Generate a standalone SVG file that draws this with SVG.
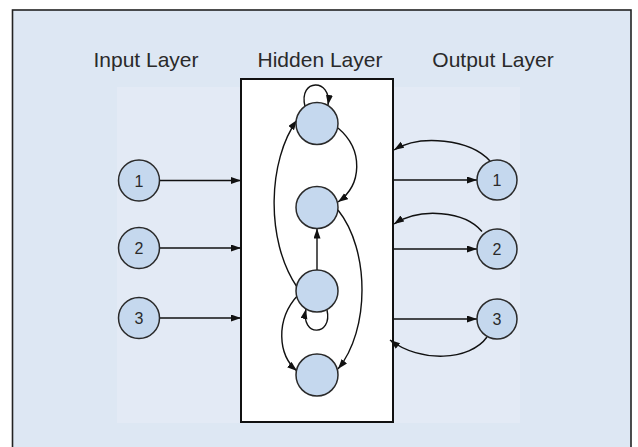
<svg xmlns="http://www.w3.org/2000/svg" width="638" height="447" viewBox="0 0 638 447">
  <defs>
    <marker id="arrow" markerUnits="userSpaceOnUse" markerWidth="11" markerHeight="8" refX="10" refY="3.5" orient="auto">
      <path d="M0,0 L10,3.5 L0,7 z" fill="#111"/>
    </marker>
    <style>
      .panel { fill: #dde7f3; stroke: #222; stroke-width: 1.6; }
      .inner { fill: #e3eaf5; }
      .box { fill: #ffffff; stroke: #111; stroke-width: 2; }
      .node { fill: #c5d8ee; stroke: #2a2a2a; stroke-width: 1.5; }
      .title { font-family: "Liberation Sans", Arial, sans-serif; font-size: 21px; fill: #2a2a2a; text-anchor: middle; }
      .num { font-family: "Liberation Sans", Arial, sans-serif; font-size: 16px; fill: #2a2a2a; text-anchor: middle; }
      .edge { fill: none; stroke: #111; stroke-width: 1.4; marker-end: url(#arrow); }
    </style>
  </defs>

  <!-- background panel -->
  <rect class="panel" x="12.5" y="10" width="618.5" height="450"/>
  <rect class="inner" x="117" y="87" width="403" height="336"/>

  <!-- layer titles -->
  <text class="title" x="146" y="67">Input Layer</text>
  <text class="title" x="320" y="67">Hidden Layer</text>
  <text class="title" x="493" y="67">Output Layer</text>

  <!-- hidden layer container -->
  <g id="hidden-layer">
    <rect class="box" x="241" y="79" width="152" height="343"/>
  </g>

  <!-- connectors -->
  <g id="connectors">
    <!-- inputs into hidden layer -->
    <path class="edge" d="M159.5,180.5 H241"/>
    <path class="edge" d="M159.5,248 H241"/>
    <path class="edge" d="M159.5,318 H241"/>
    <!-- hidden layer to outputs -->
    <path class="edge" d="M393,180 H477"/>
    <path class="edge" d="M393,249 H477"/>
    <path class="edge" d="M393,319 H477"/>
    <!-- output feedback -->
    <path class="edge" d="M490,161 C470,139 420,134 394,150"/>
    <path class="edge" d="M482,231.5 C465,211 420,207 394,224"/>
    <path class="edge" d="M487,337 C470,361 420,363 390,340"/>
    <!-- recurrent connections inside hidden layer -->
    <path class="edge" d="M305,106.5 C298,78 332,78 328,105"/>
    <path class="edge" d="M338,128 C364,150 362,185 338,202"/>
    <path class="edge" d="M297,287 C265,240 268,160 297,120"/>
    <path class="edge" d="M338,210 C370,250 370,330 338,369"/>
    <path class="edge" d="M317,270 V228.5"/>
    <path class="edge" d="M327,310 C333,337 300,337 306,309"/>
    <path class="edge" d="M298,295 C275,320 278,355 297,371"/>
  </g>

  <!-- input nodes -->
  <g id="input-1"><circle class="node" cx="139" cy="180.5" r="20.5"/><text class="num" x="139" y="186.5">1</text></g>
  <g id="input-2"><circle class="node" cx="139" cy="248" r="20.5"/><text class="num" x="139" y="254">2</text></g>
  <g id="input-3"><circle class="node" cx="139" cy="318" r="20.5"/><text class="num" x="139" y="324">3</text></g>

  <!-- hidden nodes -->
  <g id="hidden-1"><circle class="node" cx="317" cy="123.5" r="21"/></g>
  <g id="hidden-2"><circle class="node" cx="317" cy="207.5" r="21"/></g>
  <g id="hidden-3"><circle class="node" cx="317" cy="291" r="21"/></g>
  <g id="hidden-4"><circle class="node" cx="317" cy="375" r="21"/></g>

  <!-- output nodes -->
  <g id="output-1"><circle class="node" cx="497" cy="180" r="20"/><text class="num" x="497" y="186">1</text></g>
  <g id="output-2"><circle class="node" cx="497" cy="249" r="20"/><text class="num" x="497" y="255">2</text></g>
  <g id="output-3"><circle class="node" cx="497" cy="319" r="20"/><text class="num" x="497" y="325">3</text></g>
</svg>
